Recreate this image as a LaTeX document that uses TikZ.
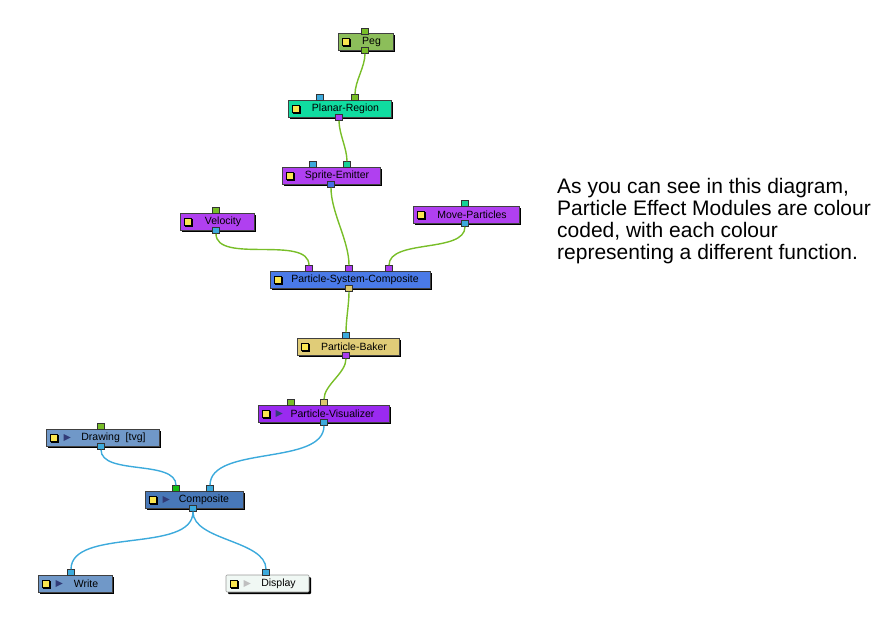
\documentclass[tikz,border=0pt]{standalone}
\usepackage{fontspec}
\setmainfont{Liberation Sans}
\usetikzlibrary{shadows}
\begin{document}
\begin{tikzpicture}[x=1pt,y=1pt,
 mod/.style={draw=black!75, line width=0.6pt, minimum height=17pt, inner sep=0pt, font=\fontsize{10.5}{11}\selectfont,
   drop shadow={shadow xshift=2pt, shadow yshift=-2pt, opacity=1, fill=black}},
 port/.style={draw=black!80, line width=0.5pt, minimum width=7pt, minimum height=6pt, inner sep=0pt},
 ico/.style={fill={rgb,255:red,250;green,230;blue,80}, draw=black, line width=0.4pt, minimum size=7.5pt, inner sep=0pt,
   drop shadow={shadow xshift=1.5pt, shadow yshift=-1.5pt, opacity=1, fill=black}}]
\definecolor{cpeg}{RGB}{140,190,90}
\definecolor{cplan}{RGB}{16,220,160}
\definecolor{cspr}{RGB}{176,64,240}
\definecolor{cpsc}{RGB}{74,122,232}
\definecolor{cbak}{RGB}{224,204,120}
\definecolor{cvis}{RGB}{154,42,240}
\definecolor{cdraw}{RGB}{112,152,200}
\definecolor{ccomp}{RGB}{72,120,184}
\definecolor{cdisp}{RGB}{240,248,244}
\definecolor{pgreen}{RGB}{120,190,40}
\definecolor{pblue}{RGB}{60,170,220}
\definecolor{ppur}{RGB}{170,60,240}
\definecolor{pteal}{RGB}{20,210,150}
\definecolor{pbl2}{RGB}{70,110,230}
\definecolor{ptan}{RGB}{220,200,110}
\definecolor{pgr2}{RGB}{20,190,20}
\definecolor{playc}{RGB}{50,60,120}
\useasboundingbox (0,0) rectangle (877,-624);
\newcommand\icon[1]{\node[ico] at ([xshift=8pt]#1.west) {};}
\newcommand\play[2]{\fill[#2] ([xshift=18pt,yshift=3.5pt]#1.west) -- ++(7,-3.5) -- ++(-7,-3.5) -- cycle;}
% modules
\node[mod, fill=cpeg, minimum width=55pt] (peg) at (365.5,-41.5) {\hspace{12pt}Peg};
\node[mod, fill=cplan, minimum width=103pt] (plan) at (339.5,-108.5) {\hspace{12pt}Planar-Region};
\node[mod, fill=cspr, minimum width=98pt] (spr) at (331,-175.5) {\hspace{12pt}Sprite-Emitter};
\node[mod, fill=cspr, minimum width=74pt] (vel) at (217,-221.5) {\hspace{12pt}Velocity};
\node[mod, fill=cspr, minimum width=106pt] (move) at (466,-214.5) {\hspace{12pt}Move-Particles};
\node[mod, fill=cpsc, minimum width=160pt] (psc) at (350,-279.5) {\hspace{10pt}Particle-System-Composite};
\node[mod, fill=cbak, minimum width=102pt] (bak) at (348,-346.5) {\hspace{12pt}Particle-Baker};
\node[mod, fill=cvis, minimum width=131pt] (vis) at (323.5,-413.5) {\hspace{18pt}Particle-Visualizer};
\node[mod, fill=cdraw, minimum width=113pt] (drw) at (102.5,-437.5) {\hspace{22pt}Drawing\ \ [tvg]};
\node[mod, fill=ccomp, minimum width=98pt] (comp) at (194,-499.5) {\hspace{20pt}Composite};
\node[mod, fill=cdraw, minimum width=74pt] (wr) at (75,-583.5) {\hspace{22pt}Write};
\node[mod, fill=cdisp, draw=black!40, minimum width=83pt, rounded corners=1pt] (disp) at (267.5,-583.5) {\hspace{22pt}Display};
\foreach \n in {peg,plan,spr,vel,move,psc,bak,vis,drw,comp,wr,disp} {\icon{\n}}
\foreach \n in {vis,drw,comp,wr} {\play{\n}{playc}}
\play{disp}{black!25}
% ports
\node[port, fill=pgreen] (pegI) at (365,-31) {};
\node[port, fill=pgreen] (pegO) at (365,-50.5) {};
\node[port, fill=pblue] (planI1) at (320,-97.5) {};
\node[port, fill=pgreen] (planI2) at (355,-97.5) {};
\node[port, fill=ppur] (planO) at (339,-117.5) {};
\node[port, fill=pblue] (sprI1) at (313,-164.5) {};
\node[port, fill=pteal] (sprI2) at (347,-164.5) {};
\node[port, fill=pbl2] (sprO) at (331,-184.5) {};
\node[port, fill=pgreen] (velI) at (216,-210.5) {};
\node[port, fill=pblue] (velO) at (216,-230.5) {};
\node[port, fill=pteal] (moveI) at (465,-203.5) {};
\node[port, fill=pblue] (moveO) at (465,-223.5) {};
\node[port, fill=ppur] (pscI1) at (309,-268.5) {};
\node[port, fill=ppur] (pscI2) at (349,-268.5) {};
\node[port, fill=ppur] (pscI3) at (389,-268.5) {};
\node[port, fill=ptan] (pscO) at (349,-288.5) {};
\node[port, fill=pblue] (bakI) at (346,-335.5) {};
\node[port, fill=ppur] (bakO) at (346,-355.5) {};
\node[port, fill=pgreen] (visI1) at (291,-402.5) {};
\node[port, fill=ptan] (visI2) at (324,-402.5) {};
\node[port, fill=pblue] (visO) at (324,-422.5) {};
\node[port, fill=pgreen] (drwI) at (101,-426.5) {};
\node[port, fill=pblue] (drwO) at (101,-446.5) {};
\node[port, fill=pgr2] (compI1) at (176,-488.5) {};
\node[port, fill=pblue] (compI2) at (210,-488.5) {};
\node[port, fill=pblue] (compO) at (193,-508.5) {};
\node[port, fill=pblue] (wrI) at (71,-572.5) {};
\node[port, fill=pblue] (dispI) at (266,-572.5) {};
% wires
\begin{scope}[line width=1.4pt, looseness=0.8]
\draw[pgreen] (pegO.south) to[out=-90,in=90] (planI2.north);
\draw[pgreen] (planO.south) to[out=-90,in=90] (sprI2.north);
\draw[pgreen] (sprO.south) to[out=-90,in=90] (pscI2.north);
\draw[pgreen] (velO.south) to[out=-90,in=90] (pscI1.north);
\draw[pgreen] (moveO.south) to[out=-90,in=90] (pscI3.north);
\draw[pgreen] (pscO.south) to[out=-90,in=90] (bakI.north);
\draw[pgreen] (bakO.south) to[out=-90,in=90] (visI2.north);
\draw[pblue] (visO.south) to[out=-90,in=90] (compI2.north);
\draw[pblue] (drwO.south) to[out=-90,in=90] (compI1.north);
\draw[pblue] (compO.south) to[out=-90,in=90] (wrI.north);
\draw[pblue] (compO.south) to[out=-90,in=90] (dispI.north);
\end{scope}
\node[anchor=north west, align=left, font=\fontsize{21}{22}\selectfont, inner sep=0pt] (txt) at (557,-178)
 {As you can see in this diagram,\\Particle Effect Modules are colour\\coded, with each colour\\representing a different function.};
\end{tikzpicture}
\end{document}
